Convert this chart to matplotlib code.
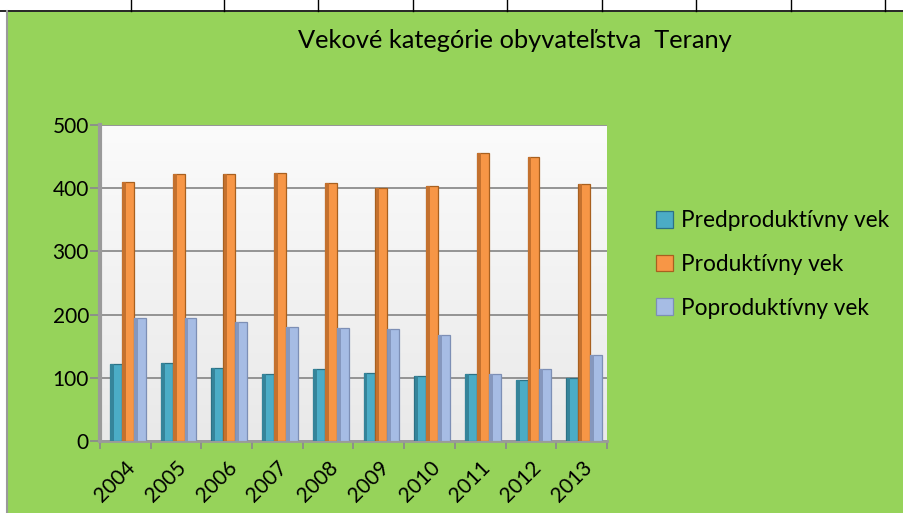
import numpy as np
import matplotlib.pyplot as plt
from matplotlib.lines import Line2D
from matplotlib.patches import Rectangle

# data
roky = ["2004", "2005", "2006", "2007", "2008", "2009", "2010", "2011", "2012", "2013"]
predprod = [122, 124, 115, 106, 114, 107, 103, 106, 96, 100]
prod = [410, 422, 422, 424, 408, 400, 404, 456, 449, 406]
poprod = [195, 195, 189, 180, 179, 178, 167, 106, 114, 136]
nazvy = ["Predproduktívny vek", "Produktívny vek", "Poproduktívny vek"]

farby = ["#4bacc6", "#f79646", "#a6bce4"]
tiene = ["#35849a", "#c4712e", "#8597bd"]
okraje = ["#2c7185", "#a8601f", "#7d8fb5"]

plt.rcParams['font.family'] = ['Lato', 'DejaVu Sans']

fig = plt.figure(figsize=(9.04, 5.13), dpi=100)
fig.patch.set_facecolor("white")

# green chart area under a strip of spreadsheet cells
fig.add_artist(Rectangle((8/904, 0), 1, 1 - 12/513, transform=fig.transFigure,
                         facecolor="#96d35a", edgecolor="none", zorder=0))
fig.add_artist(Line2D([0, 1], [1 - 11/513, 1 - 11/513], transform=fig.transFigure,
                      color="black", lw=1.2))
fig.add_artist(Line2D([7/904, 7/904], [0, 1 - 11/513], transform=fig.transFigure,
                      color="#9a9a9a", lw=1.5))
for xc in [131, 224, 318, 413, 507, 602, 696, 791, 885]:
    fig.add_artist(Line2D([xc/904, xc/904], [1 - 11/513, 1], transform=fig.transFigure,
                          color="black", lw=1))

ax = fig.add_axes([100/904, 72/513, 507/904, 316/513])
ax.set_facecolor("none")

# plot area gradient
grad = np.linspace(0, 1, 256).reshape(-1, 1)
ax.imshow(grad, cmap=plt.matplotlib.colors.LinearSegmentedColormap.from_list(
    "g", ["#e9e9e9", "#fbfbfb"]), aspect="auto", extent=[-0.5, 9.5, 0, 500],
    origin="lower", zorder=0)

x = np.arange(len(roky))
w = 0.235
for i, vals in enumerate([predprod, prod, poprod]):
    pos = x + (i - 1) * w + 0.05
    ax.bar(pos, vals, w, color=farby[i], edgecolor=okraje[i], linewidth=0.9,
           label=nazvy[i], zorder=3)
    # darker left side, a hint of the cylinder shading
    ax.bar(pos - w * 0.32, vals, w * 0.3, color=tiene[i], linewidth=0, zorder=4)

ax.set_xlim(-0.5, 9.5)
ax.set_ylim(0, 500)
ax.set_yticks(range(0, 501, 100))
ax.yaxis.grid(True, color="#8c8c8c", lw=1.3, zorder=1)
ax.set_axisbelow(True)

ax.set_xticks(x)
ax.set_xticklabels(roky, rotation=45, ha="right", rotation_mode="anchor", fontsize=15)
ax.set_xticks(np.arange(-0.5, 10, 1), minor=True)
ax.tick_params(axis="x", which="major", length=0, pad=12)
ax.tick_params(axis="x", which="minor", length=6, color="#8c8c8c", width=1.3)
ax.tick_params(axis="y", length=7, color="#8c8c8c", width=1.3, labelsize=15, pad=1)

for s in ["top", "right"]:
    ax.spines[s].set_visible(False)
ax.spines["left"].set_color("#9a9a9a")
ax.spines["left"].set_linewidth(3)
ax.spines["bottom"].set_color("#9a9a9a")
ax.spines["bottom"].set_linewidth(2)

fig.text(515/904, 1 - 40/513, "Vekové kategórie obyvateľstva  Terany",
         ha="center", va="center", fontsize=18.3)

ax.legend(loc="upper left", bbox_to_anchor=(636/904, 1 - 190/513),
          bbox_transform=fig.transFigure, frameon=False, fontsize=16.3,
          handlelength=0.75, handleheight=0.75, handletextpad=0.35, labelspacing=1.0)

fig.savefig("out.png", dpi=100, facecolor=fig.get_facecolor())
